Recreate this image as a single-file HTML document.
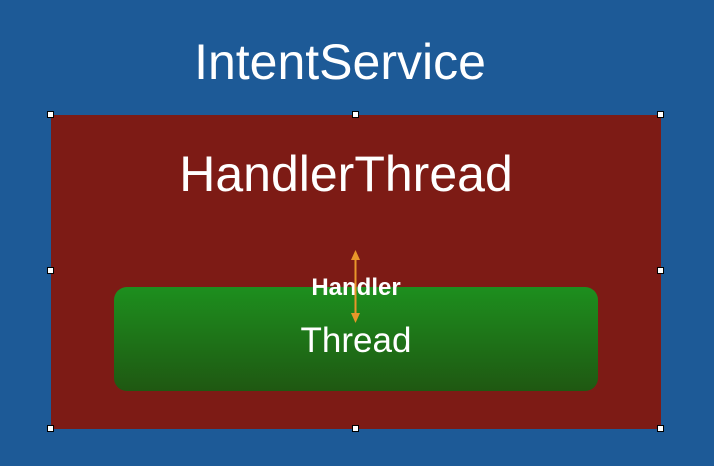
<!DOCTYPE html>
<html><head><style>
body{margin:0;width:714px;height:466px;background:#1d5a97;position:relative;overflow:hidden;font-family:"Liberation Sans",sans-serif;}
.t{position:absolute;color:#fff;text-align:center;white-space:nowrap;}
.h{position:absolute;width:5px;height:5px;background:#fff;border:1px solid #000;}
</style></head><body>
<div class="t" style="left:0;width:680px;top:33px;font-size:50px;font-weight:300;">IntentService</div>
<div style="position:absolute;left:51px;top:115px;width:610px;height:314px;background:#7d1b15;"></div>
<div class="t" style="left:46px;width:600px;top:145px;font-size:50px;">HandlerThread</div>
<div style="position:absolute;left:114px;top:287px;width:484px;height:104px;border-radius:13px;background:linear-gradient(#1d8f1e,#1f5812);"></div>
<div class="t" style="left:114px;width:484px;top:321px;font-size:35px;">Thread</div>
<div class="t" style="left:256px;width:200px;top:274px;font-size:24px;font-weight:bold;">Handler</div>
<svg width="714" height="466" style="position:absolute;left:0;top:0">
<line x1="355.5" y1="256" x2="355.5" y2="318" stroke="#e8962a" stroke-width="2"/>
<polygon points="355.5,250 351,260 360,260" fill="#e8962a"/>
<polygon points="355.5,323 351,313 360,313" fill="#e8962a"/>
</svg>
<div class="h" style="left:47px;top:111px"></div>
<div class="h" style="left:352px;top:111px"></div>
<div class="h" style="left:657px;top:111px"></div>
<div class="h" style="left:47px;top:267px"></div>
<div class="h" style="left:657px;top:267px"></div>
<div class="h" style="left:47px;top:425px"></div>
<div class="h" style="left:352px;top:425px"></div>
<div class="h" style="left:657px;top:425px"></div>
</body></html>
